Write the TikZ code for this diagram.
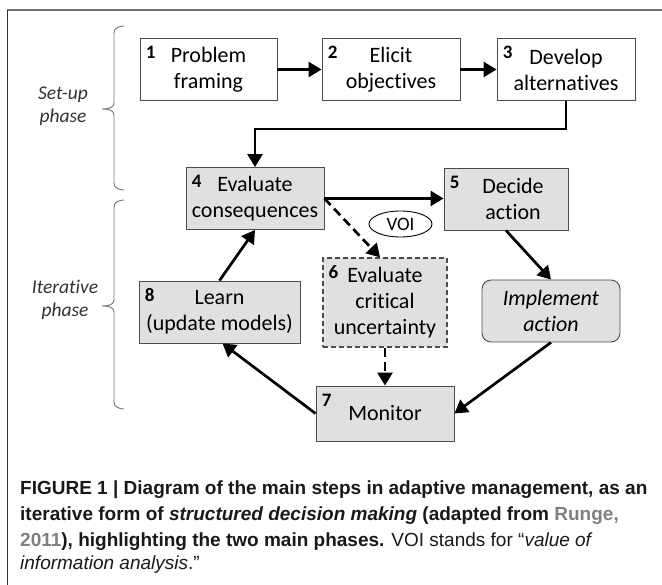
\documentclass[tikz,border=0pt]{standalone}
\usepackage{fontspec}
\setmainfont{Carlito}[Ligatures=NoCommon]
\newfontfamily\capfont{Liberation Sans}
\usetikzlibrary{arrows.meta,positioning,shapes.geometric}

\begin{document}
\begin{tikzpicture}[x=1pt,y=-1pt,
  every node/.style={inner sep=0pt},
  stepbox/.style={draw=black!70,line width=0.9pt,align=center,minimum height=62pt,
    font=\fontsize{22}{26}\selectfont},
  shaded/.style={stepbox,fill=black!12},
  stepnum/.style={anchor=north west,font=\fontsize{19}{19}\selectfont\bfseries},
  flow/.style={-{Triangle[length=13pt,width=15pt]},line width=2.7pt},
  maybe/.style={flow,dash pattern=on 9pt off 5pt},
  phase/.style={align=center,text=black!80,font=\fontsize{19.5}{23}\selectfont\itshape},
  bracket/.style={draw=black!55,line width=0.9pt},
  caption/.style={anchor=base west,text=black!90,font=\capfont\fontsize{19}{19}\selectfont},
  ref/.style={text=black!50}]
\useasboundingbox (0,0) rectangle (662,585);

% frame of the figure
\draw[black!55,line width=1.5pt] (7,10) -- (662,10);
\draw[black!80,line width=0.8pt] (7,10) -- (7,585);

% set-up phase
\node[stepbox,minimum width=137pt] (b1) at (208.5,69.5) {Problem\\framing};
\node[stepbox,minimum width=138pt] (b2) at (391,69.5)   {Elicit\\objectives};
\node[stepbox,minimum width=138pt] (b3) at (566,69.5)   {Develop\\alternatives};

% iterative phase
\node[shaded,minimum width=138pt] (b4) at (255,198.5) {Evaluate\\consequences};
\node[shaded,minimum width=124pt] (b5) at (506,199)   {\hspace*{14pt}Decide\\\hspace*{14pt}action};
\node[shaded,minimum width=124pt,minimum height=89pt,line width=1.3pt,
      dash pattern=on 5pt off 3pt] (b6) at (385,302.5) {Evaluate\\critical\\uncertainty};
\node[shaded,minimum width=138pt,minimum height=55pt] (b7) at (385,413.5) {Monitor};
\node[shaded,minimum width=161pt] (b8) at (219.5,312) {Learn\\(update models)};
\node[shaded,minimum width=138pt,rounded corners=9pt,
      font=\fontsize{22}{26}\selectfont\itshape] (act) at (551,311) {Implement\\action};

\foreach \b/\n in {b1/1,b2/2,b3/3,b4/4,b5/5,b6/6,b7/7,b8/8}
  \node[stepnum] (n\n) at ([shift={(6,8)}]\b.north west) {\n};

\node[draw,ellipse,fill=white,line width=0.9pt,minimum width=63pt,minimum height=26pt,
      font=\fontsize{19}{19}\selectfont] (voi) at (400.5,224) {VOI};

\draw[flow] (b1) -- (b2);
\draw[flow] (b2) -- (b3);
\draw[flow] (b3.south) -- ++(0,28) -| (b4.north);
\draw[flow] (b4.east) -- (b4.east -| b5.west);
\draw[maybe] (b4.east) -- ([xshift=-5pt]b6.north);
\draw[maybe] (b6) -- (b7);
\draw[flow] (b5.south) -- (act.north);
\draw[flow] (act.south) -- (b7.east);
\draw[flow] (b7.west) -- ([xshift=3pt]b8.south);
\draw[flow] (b8.north) -- (b4.south);

% phases
\foreach \t/\m/\b in {26/109/190, 200/306/409}
  \draw[bracket] (124,\t) to[out=180,in=90] (114,\t+7) -- (114,\m-6)
    to[out=-90,in=0] (102,\m) to[out=0,in=90] (114,\m+6)
    -- (114,\b-7) to[out=-90,in=180] (124,\b);
\node[phase] (setup) at (63,106) {Set-up\\phase};
\node[phase] (iter)  at (65,300) {Iterative\\phase};

% caption
\node[caption] (cap1) at (20,494) {\bfseries FIGURE 1 | Diagram of the main steps in adaptive management, as an};
\node[caption] (cap2) at (20,520) {\bfseries iterative form of \textit{structured decision making} (adapted from \textcolor{black!50}{Runge,}};
\node[caption] (cap3) at (20,546) {\textbf{\textcolor{black!50}{2011}), highlighting the two main phases.} VOI stands for “\textit{value of}};
\node[caption] (cap4) at (20,569) {\textit{information analysis}.”};
\end{tikzpicture}
\end{document}
